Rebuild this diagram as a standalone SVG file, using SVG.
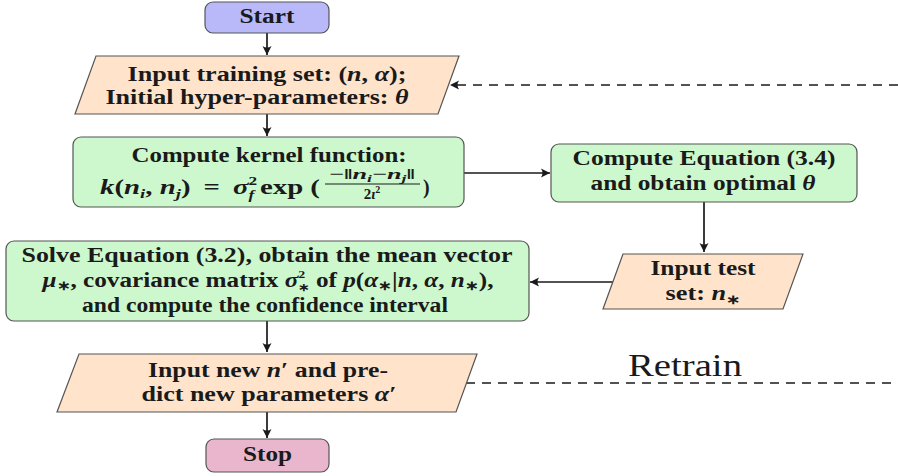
<svg xmlns="http://www.w3.org/2000/svg" width="898" height="476" viewBox="0 0 898 476">
<defs>
<style>
.t{font-family:"Liberation Serif","Times New Roman",serif;font-weight:bold;font-size:20px;fill:#1a1a1a;text-anchor:middle}
.m{font-style:italic}
.u{font-style:normal}
.s{font-size:13px}
.x{font-size:12px}
.y{font-size:11px}
.term{stroke:#555;stroke-width:1.2}
.io{fill:#ffe4cb;stroke:#555;stroke-width:1.2}
.pr{fill:#cdf8cd;stroke:#555;stroke-width:1.2}
.c{fill:none;stroke:#1a1a1a;stroke-width:1.7}
.d{fill:none;stroke:#1a1a1a;stroke-width:1.7;stroke-dasharray:9 7}
.rt{font-family:"Liberation Serif","Times New Roman",serif;font-size:31px;fill:#1a1a1a;text-anchor:middle}
</style>
<marker id="ar" markerUnits="userSpaceOnUse" markerWidth="12" markerHeight="12" viewBox="-10 -6 12 12" refX="0" refY="0" orient="auto">
<path d="M0,0 L-9,-4.5 Q-6,0 -9,4.5 Z" fill="#1a1a1a"/>
</marker>
</defs>
<rect width="898" height="476" fill="#ffffff"/>

<g id="connectors">
<path class="c" d="M267,33 V55" marker-end="url(#ar)"/>
<path class="c" d="M267,114 V136" marker-end="url(#ar)"/>
<path class="c" d="M464,173 H550" marker-end="url(#ar)"/>
<path class="c" d="M704,202 V252" marker-end="url(#ar)"/>
<path class="c" d="M613,282 H530" marker-end="url(#ar)"/>
<path class="c" d="M267,321 V352" marker-end="url(#ar)"/>
<path class="c" d="M267,412 V438" marker-end="url(#ar)"/>
<path class="d" d="M898,85 H450" marker-end="url(#ar)"/>
<path class="d" d="M466,383 H898"/>
</g>

<g id="start">
<rect class="term" x="205" y="2" width="124" height="31" rx="8" fill="#b9b9f9"/>
<text class="t" x="267" y="23" textLength="55" lengthAdjust="spacingAndGlyphs">Start</text>
</g>

<g id="input-training">
<polygon class="io" points="96,56 459,56 438,114 75,114"/>
<text class="t" x="267" y="81" textLength="279" lengthAdjust="spacingAndGlyphs">Input training set: (<tspan class="m">n</tspan>, <tspan class="m">α</tspan>);</text>
<text class="t" x="257" y="104" textLength="303" lengthAdjust="spacingAndGlyphs">Initial hyper-parameters: <tspan class="m">θ</tspan></text>
</g>

<g id="kernel">
<rect class="pr" x="73" y="137" width="391" height="70" rx="8"/>
<text class="t" x="269" y="162" textLength="275" lengthAdjust="spacingAndGlyphs">Compute kernel function:</text>
<text class="t m" x="100" y="194" textLength="220" lengthAdjust="spacingAndGlyphs" style="text-anchor:start">k<tspan class="u">(</tspan>n<tspan class="s" dy="4">i</tspan><tspan class="u" dy="-4">, </tspan>n<tspan class="s" dy="4">j</tspan><tspan class="u" dy="-4">)</tspan><tspan class="u" dx="9">=</tspan><tspan dx="9">σ</tspan><tspan class="x u" dy="-9">2</tspan><tspan class="x" dx="-6" dy="14">f</tspan><tspan class="u" dx="4" dy="-5">exp</tspan><tspan class="u" dx="5">(</tspan></text>
<text class="t" x="372" y="179" textLength="86" lengthAdjust="spacingAndGlyphs" style="font-size:15px">−‖<tspan class="m">n</tspan><tspan class="m" style="font-size:10px" dy="3">i</tspan><tspan dy="-3">−</tspan><tspan class="m">n</tspan><tspan class="m" style="font-size:10px" dy="3">j</tspan><tspan dy="-3">‖</tspan></text>
<line x1="325" y1="184" x2="420" y2="184" stroke="#1a1a1a" stroke-width="1"/>
<text class="t" x="372" y="199" style="font-size:15px">2<tspan class="m">ι</tspan><tspan style="font-size:10px" dy="-6">2</tspan></text>
<text class="t" x="423" y="194" style="text-anchor:start">)</text>
</g>

<g id="compute-eq">
<rect class="pr" x="551" y="144" width="306" height="58" rx="8"/>
<text class="t" x="704" y="165" textLength="263" lengthAdjust="spacingAndGlyphs">Compute Equation (3.4)</text>
<text class="t" x="703" y="190" textLength="225" lengthAdjust="spacingAndGlyphs">and obtain optimal <tspan class="m">θ</tspan></text>
</g>

<g id="input-test">
<polygon class="io" points="623,254 803,254 783,309 603,309"/>
<text class="t" x="703" y="275" textLength="105" lengthAdjust="spacingAndGlyphs">Input test</text>
<text class="t" x="703" y="300" textLength="75" lengthAdjust="spacingAndGlyphs">set: <tspan class="m">n</tspan><tspan class="s" dy="4">∗</tspan></text>
</g>

<g id="solve">
<rect class="pr" x="6" y="241" width="523" height="80" rx="8"/>
<text class="t" x="267" y="262" textLength="491" lengthAdjust="spacingAndGlyphs">Solve Equation (3.2), obtain the mean vector</text>
<text class="t" x="268" y="287" textLength="451" lengthAdjust="spacingAndGlyphs"><tspan class="m">μ</tspan><tspan class="s" dy="3">∗</tspan><tspan dy="-3">, covariance matrix </tspan><tspan class="m">σ</tspan><tspan class="y" dy="-9">2</tspan><tspan class="y" dx="-5.5" dy="12.6">∗</tspan><tspan dy="-3.6"> of </tspan><tspan class="m">p</tspan>(<tspan class="m">α</tspan><tspan class="s" dy="3">∗</tspan><tspan dy="-3">|</tspan><tspan class="m">n</tspan>, <tspan class="m">α</tspan>, <tspan class="m">n</tspan><tspan class="s" dy="3">∗</tspan><tspan dy="-3">),</tspan></text>
<text class="t" x="265" y="312" textLength="366" lengthAdjust="spacingAndGlyphs">and compute the confidence interval</text>
</g>

<g id="input-new">
<polygon class="io" points="79,354 477,354 456,412 57,412"/>
<text class="t" x="268" y="377" textLength="240" lengthAdjust="spacingAndGlyphs">Input new <tspan class="m">n</tspan>′ and pre-</text>
<text class="t" x="269" y="401" textLength="255" lengthAdjust="spacingAndGlyphs">dict new parameters <tspan class="m">α</tspan>′</text>
</g>

<g id="retrain-label">
<text class="rt" x="685" y="376" textLength="114" lengthAdjust="spacingAndGlyphs">Retrain</text>
</g>

<g id="stop">
<rect class="term" x="206" y="439" width="123" height="33" rx="8" fill="#e9b6cd"/>
<text class="t" x="267.5" y="461" textLength="49" lengthAdjust="spacingAndGlyphs">Stop</text>
</g>
</svg>
